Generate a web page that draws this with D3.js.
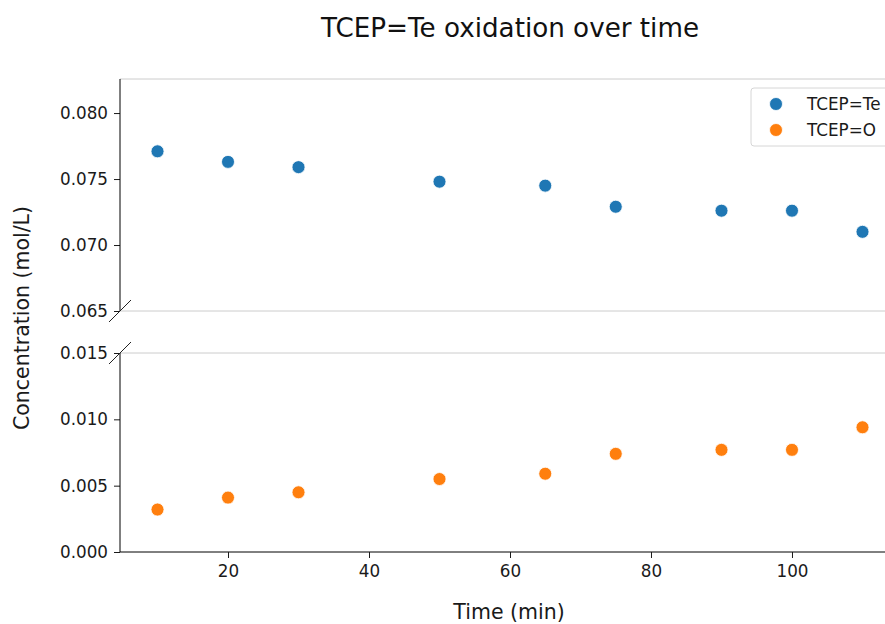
<!DOCTYPE html>
<html>
<head>
<meta charset="utf-8">
<script src="https://cdn.jsdelivr.net/npm/d3@7"></script>
<style>
  body { margin: 0; background: #fff; }
  svg text { font-family: "DejaVu Sans", sans-serif; }
</style>
</head>
<body>
<svg width="885" height="624"></svg>
<script>
// data
let times = [10, 20, 30, 50, 65, 75, 90, 100, 110];
let tcepTe = [0.0771, 0.0763, 0.0759, 0.0748, 0.0745, 0.0729, 0.0726, 0.0726, 0.0710];
let tcepO = [0.0032, 0.0041, 0.0045, 0.0055, 0.0059, 0.0074, 0.0077, 0.0077, 0.0094];
let seriesNames = ['TCEP=Te', 'TCEP=O'];
let seriesColors = ['#1f77b4', '#ff7f0e'];
let topTicks = [0.065, 0.070, 0.075, 0.080];
let bottomTicks = [0.000, 0.005, 0.010, 0.015];
let xTicks = [20, 40, 60, 80, 100];

let svg = d3.select('svg');
let left = 120, right = 900;
let topY0 = 79, topY1 = 311, botY0 = 353, botY1 = 552;

let x = d3.scaleLinear().domain([4.68, 115.32]).range([left, right]);
let yTop = d3.scaleLinear().domain([0.065, 0.08258]).range([topY1, topY0]);
let yBot = d3.scaleLinear().domain([0, 0.015]).range([botY1, botY0]);

// title
svg.append('text')
  .attr('x', 510).attr('y', 37)
  .attr('text-anchor', 'middle')
  .style('font-size', '26.2px')
  .attr('fill', '#111')
  .text('TCEP=Te oxidation over time');

// light frame lines
[topY0, topY1, botY0].forEach(y => {
  svg.append('line')
    .attr('x1', left).attr('x2', right)
    .attr('y1', y).attr('y2', y)
    .attr('stroke', '#cccccc').attr('stroke-width', 1);
});

// top y axis
let gTop = svg.append('g')
  .attr('transform', 'translate(' + left + ',0)')
  .call(d3.axisLeft(yTop).tickValues(topTicks).tickFormat(d3.format('.3f')).tickSize(6).tickPadding(6));
gTop.select('.domain').remove();
gTop.append('line').attr('x1', 0).attr('x2', 0).attr('y1', topY0).attr('y2', topY1).attr('stroke', '#000');

// bottom y axis
let gBot = svg.append('g')
  .attr('transform', 'translate(' + left + ',0)')
  .call(d3.axisLeft(yBot).tickValues(bottomTicks).tickFormat(d3.format('.3f')).tickSize(6).tickPadding(6));
gBot.select('.domain').remove();
gBot.append('line').attr('x1', 0).attr('x2', 0).attr('y1', botY0).attr('y2', botY1).attr('stroke', '#000');

// x axis
let gX = svg.append('g')
  .attr('transform', 'translate(0,' + botY1 + ')')
  .call(d3.axisBottom(x).tickValues(xTicks).tickSize(6).tickPadding(7));
gX.select('.domain').attr('d', 'M' + left + ',0H' + right);

[gTop, gBot, gX].forEach(g => {
  g.attr('font-family', null);
  g.selectAll('text').style('font-size', '16.8px').attr('fill', '#1a1a1a');
  g.selectAll('.tick line').attr('stroke', '#1a1a1a');
});

// break marks
[topY1, botY0].forEach(y => {
  svg.append('line')
    .attr('x1', left - 11).attr('y1', y + 11)
    .attr('x2', left + 11).attr('y2', y - 11)
    .attr('stroke', '#222').attr('stroke-width', 1);
});

// points
svg.append('g').selectAll('circle')
  .data(times.map((t, i) => ({t: t, v: tcepTe[i]})))
  .enter().append('circle')
  .attr('cx', d => x(d.t)).attr('cy', d => yTop(d.v))
  .attr('r', 6.5)
  .attr('fill', seriesColors[0]).attr('stroke', '#fff').attr('stroke-width', 0.8);

svg.append('g').selectAll('circle')
  .data(times.map((t, i) => ({t: t, v: tcepO[i]})))
  .enter().append('circle')
  .attr('cx', d => x(d.t)).attr('cy', d => yBot(d.v))
  .attr('r', 6.5)
  .attr('fill', seriesColors[1]).attr('stroke', '#fff').attr('stroke-width', 0.8);

// legend
let legend = svg.append('g').attr('transform', 'translate(751,88)');
legend.append('rect')
  .attr('width', 150).attr('height', 58)
  .attr('rx', 3)
  .attr('fill', '#fff').attr('fill-opacity', 0.8)
  .attr('stroke', '#d6d6d6');
seriesNames.forEach((name, i) => {
  legend.append('circle')
    .attr('cx', 25).attr('cy', 16 + i * 26)
    .attr('r', 6.5)
    .attr('fill', seriesColors[i]).attr('stroke', '#fff').attr('stroke-width', 0.8);
  legend.append('text')
    .attr('x', 56).attr('y', 16 + i * 26)
    .attr('dy', '0.35em')
    .style('font-size', '16.8px')
    .attr('fill', '#1a1a1a')
    .text(name);
});

// axis labels
svg.append('text')
  .attr('x', 509).attr('y', 619)
  .attr('text-anchor', 'middle')
  .style('font-size', '20.5px')
  .attr('fill', '#1a1a1a')
  .text('Time (min)');

svg.append('text')
  .attr('transform', 'translate(29,318) rotate(-90)')
  .attr('text-anchor', 'middle')
  .style('font-size', '20.5px')
  .attr('fill', '#1a1a1a')
  .text('Concentration (mol/L)');
</script>
</body>
</html>
